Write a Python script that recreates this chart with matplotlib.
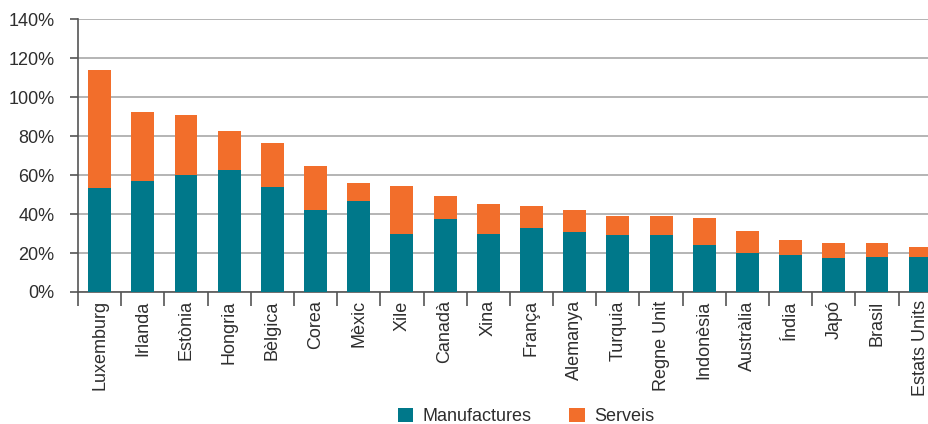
import matplotlib
matplotlib.use("Agg")
import matplotlib.pyplot as plt
from matplotlib.ticker import FuncFormatter, FixedLocator
from matplotlib.patches import Patch

countries = ["Luxemburg", "Irlanda", "Estònia", "Hongria", "Bèlgica", "Corea", "Mèxic",
             "Xile", "Canadà", "Xina", "França", "Alemanya", "Turquia", "Regne Unit",
             "Indonèsia", "Austràlia", "Índia", "Japó", "Brasil", "Estats Units"]
manufactures = [53.4, 57.0, 60.1, 62.7, 54.0, 42.1, 46.8, 29.8, 37.5, 29.8, 32.9, 30.8,
                29.3, 29.3, 24.2, 20.0, 19.0, 17.5, 18.0, 18.0]
totals = [114.1, 92.5, 91.0, 82.7, 76.6, 64.7, 56.0, 54.5, 49.3, 45.2, 44.2, 42.1,
          39.1, 39.1, 38.0, 31.3, 26.7, 25.2, 25.2, 23.1]
serveis = [t - m for t, m in zip(totals, manufactures)]
yticks = [0, 20, 40, 60, 80, 100, 120, 140]

teal = "#00788A"
orange = "#F26E2B"
txt = "#2E2E2E"

plt.rcParams['font.family'] = ['Liberation Sans', 'DejaVu Sans']

W, H = 929, 424
fig = plt.figure(figsize=(W / 100, H / 100), dpi=100)
left, right = 78, 941.8
bottom, top = 292, 19.5
ax = fig.add_axes([left / W, (H - bottom) / H, (right - left) / W, (bottom - top) / H])

x = list(range(len(countries)))
ax.bar(x, manufactures, width=0.53, color=teal, zorder=3)
ax.bar(x, serveis, width=0.53, bottom=manufactures, color=orange, zorder=3)

ax.set_xlim(-0.5, len(countries) - 0.5)
ax.set_ylim(0, 140)
ax.set_yticks(yticks)
ax.yaxis.set_major_formatter(FuncFormatter(lambda v, p: f"{int(v)}%"))
ax.grid(axis='y', color="#A8A8A8", linewidth=1.2, zorder=0)
ax.set_axisbelow(True)

ax.set_xticks(x)
ax.set_xticklabels(countries, rotation=90, fontsize=13, color=txt, va='top', ha='center')
ax.xaxis.set_minor_locator(FixedLocator([i - 0.5 for i in range(len(countries) + 1)]))
ax.tick_params(axis='x', which='major', length=0, pad=6)
ax.tick_params(axis='x', which='minor', length=10, width=1.2, color="#555555")
ax.tick_params(axis='y', length=6, width=1.2, color="#555555", labelsize=13,
               labelcolor=txt, pad=11)

for s in ['top', 'right']:
    ax.spines[s].set_visible(False)
for s in ['left', 'bottom']:
    ax.spines[s].set_color("#555555")
    ax.spines[s].set_linewidth(1.2)

handles = [Patch(facecolor=teal, label="Manufactures"), Patch(facecolor=orange, label="Serveis")]
fig.legend(handles=handles, loc='center', bbox_to_anchor=(526 / W, 1 - 416.5 / H),
           ncol=2, frameon=False, fontsize=13, handlelength=0.85, handleheight=0.85,
           handletextpad=0.5, columnspacing=2.1, labelcolor=txt, borderpad=0)

fig.savefig("out.png", dpi=100)
